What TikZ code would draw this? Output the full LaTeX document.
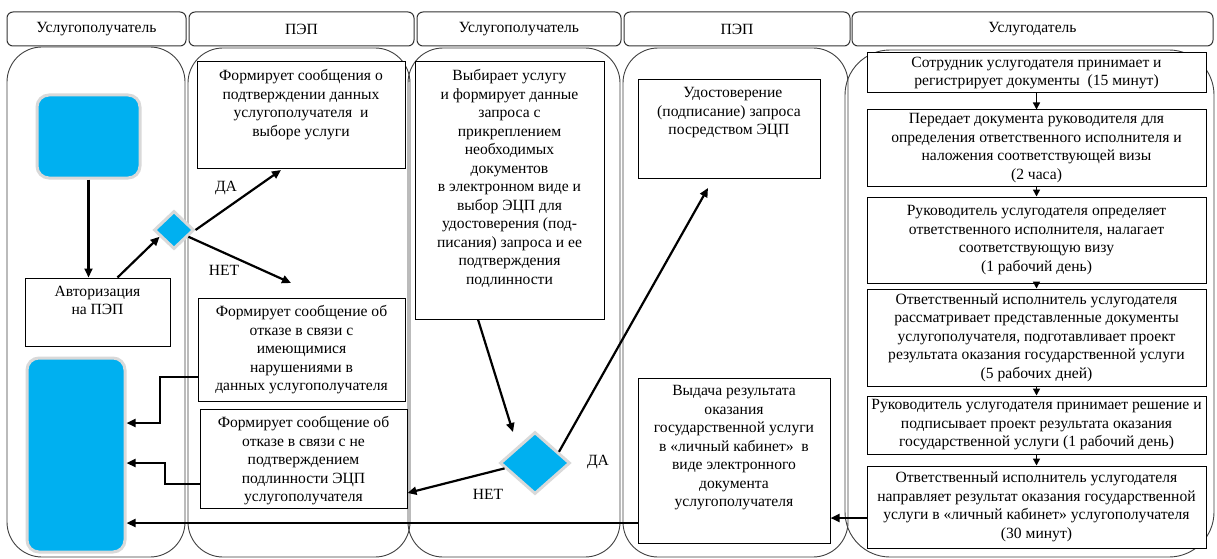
\documentclass[tikz,border=0pt]{standalone}
\usepackage{fontspec}
\setmainfont{Liberation Serif}
\newfontfamily\myserif{Liberation Serif}
\usetikzlibrary{shapes.geometric,arrows.meta,fit}
\definecolor{cyanb}{HTML}{00B0F0}
\tikzset{
 lane/.style={draw=black!75, line width=0.9pt, rounded corners=35pt},
 hdr/.style={draw=black!80, line width=1pt, rounded corners=6pt, inner sep=0pt, font=\myserif\fontsize{15.6}{18}\selectfont},
 bx/.style={draw=black, line width=1pt, fill=white, inner sep=0pt},
 txt/.style={inner sep=0pt, align=center, font=\myserif\fontsize{15.6}{18.5}\selectfont, anchor=north},
 ctxt/.style={inner sep=0pt, align=center, font=\myserif\fontsize{15.6}{18.5}\selectfont},
 arr/.style={draw=black, line width=2.2pt, -{Triangle[length=9pt,width=8pt]}},
 sarr/.style={draw=black, line width=1.5pt, -{Triangle[length=7pt,width=7pt]}},
 bluebox/.style={fill=cyanb, draw=black!15, line width=3pt, rounded corners=12pt, inner sep=0pt},
 dia/.style={diamond, fill=cyanb, draw=black!15, line width=3pt, inner sep=0pt},
 lbl/.style={inner sep=0pt, font=\myserif\fontsize{15.6}{18}\selectfont}
}
\begin{document}
\begin{tikzpicture}[x=1pt,y=-1pt]
\useasboundingbox (0,0) rectangle (1217,559);
\fill[white] (0,0) rectangle (1217,559);

% headers
\node[hdr, minimum width=179pt, minimum height=34pt] (h1) at (96.5,29) {Услугополучатель};
\node[hdr, minimum width=225pt, minimum height=34pt] (h2) at (301.5,29) {ПЭП};
\node[hdr, minimum width=204pt, minimum height=34pt] (h3) at (519,29) {Услугополучатель};
\node[hdr, minimum width=226pt, minimum height=34pt] (h4) at (737,29) {ПЭП};
\node[hdr, minimum width=361pt, minimum height=34pt] (h5) at (1032.5,29) {Услугодатель};

% lanes
\draw[lane] (7,47) rectangle (185,557);
\draw[lane] (188,48) rectangle (410,557);
\draw[lane] (408,48) rectangle (620,557);
\draw[lane] (623,48) rectangle (848,557);
\draw[lane, rounded corners=45pt] (845,50) rectangle (1214,557);

% lane 1
\node[bluebox, fit={(37,95) (140,178)}] (u1) {};
\node[bluebox, fit={(27,358) (125,552)}] (u2) {};
\node[bx, fit={(25,278) (170,346)}] (auth) {};
\node[txt] (authT) at ([yshift=-8pt]auth.north) {Авторизация\\на ПЭП};
\node[dia, minimum width=40pt, minimum height=38pt] (d1) at (174,230) {};

% lane 2
\node[bx, fit={(197,62) (405,168)}] (bA) {};
\node[txt] (bAT) at ([yshift=-8pt]bA.north) {Формирует сообщения о\\подтверждении данных\\услугополучателя\ \ и\\выборе услуги};
\node[bx, fit={(198,298) (405,401)}] (bB) {};
\node[txt] (bBT) at ([yshift=-8pt]bB.north) {Формирует сообщение об\\отказе в связи с\\имеющимися\\нарушениями в\\данных услугополучателя};
\node[bx, fit={(200,409) (407,508)}] (bC) {};
\node[txt] (bCT) at ([yshift=-8pt]bC.north) {Формирует сообщение об\\отказе в связи с не\\подтверждением\\подлинности ЭЦП\\услугополучателя};

% lane 3
\node[bx, fit={(415,62) (604,319)}] (bD) {};
\node[txt] (bDT) at ([yshift=-8pt]bD.north) {Выбирает услугу\\и формирует данные\\запроса с\\прикреплением\\необходимых\\документов\\в электронном виде и\\выбор ЭЦП для\\удостоверения (под-\\писания) запроса и ее\\подтверждения\\подлинности};
\node[dia, minimum width=70pt, minimum height=62pt] (d2) at (535,463) {};

% lane 4
\node[bx, fit={(638,80) (820,178)}] (bE) {};
\node[txt] (bET) at ([yshift=-8pt]bE.north) {\ \ Удостоверение\\(подписание) запроса\\посредством ЭЦП};
\node[bx, fit={(638,378) (830,543)}] (bF) {};
\node[txt] (bFT) at ([yshift=-8pt]bF.north) {Выдача результата\\оказания\\государственной услуги\\в «личный кабинет»\ \ в\\виде электронного\\документа\\услугополучателя};

% lane 5
\node[bx, fit={(867,53) (1206,93)}] (r1) {};
\node[ctxt] (r1T) at (r1.center) {Сотрудник услугодателя принимает и\\регистрирует документы\ \ (15 минут)};
\node[bx, fit={(867,110) (1206,186)}] (r2) {};
\node[ctxt] (r2T) at (r2.center) {Передает документа руководителя для\\определения ответственного исполнителя и\\наложения соответствующей визы\\(2 часа)};
\node[bx, fit={(867,197) (1206,283)}] (r3) {};
\node[ctxt] (r3T) at (r3.center) {Руководитель услугодателя определяет\\ответственного исполнителя, налагает\\соответствующую визу\\(1 рабочий день)};
\node[bx, fit={(867,289) (1206,386)}] (r4) {};
\node[ctxt] (r4T) at (r4.center) {Ответственный исполнитель услугодателя\\рассматривает представленные документы\\услугополучателя, подготавливает проект\\результата оказания государственной услуги\\(5 рабочих дней)};
\node[bx, fit={(867,396) (1206,454)}] (r5) {};
\node[ctxt] (r5T) at (r5.center) {Руководитель услугодателя принимает решение и\\подписывает проект результата оказания\\государственной услуги (1 рабочий день)};
\node[bx, fit={(867,466) (1206,548)}] (r6) {};
\node[ctxt] (r6T) at (r6.center) {Ответственный исполнитель услугодателя\\направляет результат оказания государственной\\услуги в «личный кабинет» услугополучателя\\(30 минут)};

% helper coordinates
\coordinate (daA) at (281,170);
\coordinate (netA) at (291,283);
\coordinate (k1) at (160,377);
\coordinate (k2) at (160,423);
\coordinate (k3) at (165,484);
\coordinate (k4) at (165,463);
\coordinate (k5) at (0,523);
\coordinate (d2in) at (513,432);
\coordinate (daE) at (708,188);
\coordinate (k6) at (0,493);
\coordinate (k7) at (0,518);

% connectors
\draw[arr] (u1.south) -- (u1.south |- auth.north);
\draw[arr] ([xshift=20pt]auth.north) -- (d1.205);
\draw[arr] (d1.east) -- (daA);
\draw[arr] (d1.-25) -- (netA);
\draw[arr] (bB.west |- k1) -- (k1) -- (k2) -- (u2.east |- k2);
\draw[arr] (bC.west |- k3) -- (k3) -- (k4) -- (u2.east |- k4);
\draw[arr] (bF.west |- k5) -- (u2.east |- k5);
\draw[arr] ([xshift=-31.5pt]bD.south) -- (d2in);
\draw[arr] (d2.25) -- (daE);
\draw[arr] (d2.190) -- (bC.east |- k6);
\draw[arr] (r6.west |- k7) -- (bF.east |- k7);
\draw[sarr] (r1.south) -- (r2.north);
\draw[sarr] (r2.south) -- (r3.north);
\draw[sarr] (r3.south) -- (r4.north);
\draw[sarr] (r4.south) -- (r5.north);
\draw[sarr] (r5.south) -- (r6.north);

% labels
\node[lbl] (lda1) at (226,188) {ДА};
\node[lbl] (lnet1) at (224,270) {НЕТ};
\node[lbl] (lda2) at (598,462) {ДА};
\node[lbl] (lnet2) at (488,494) {НЕТ};
\end{tikzpicture}
\end{document}
